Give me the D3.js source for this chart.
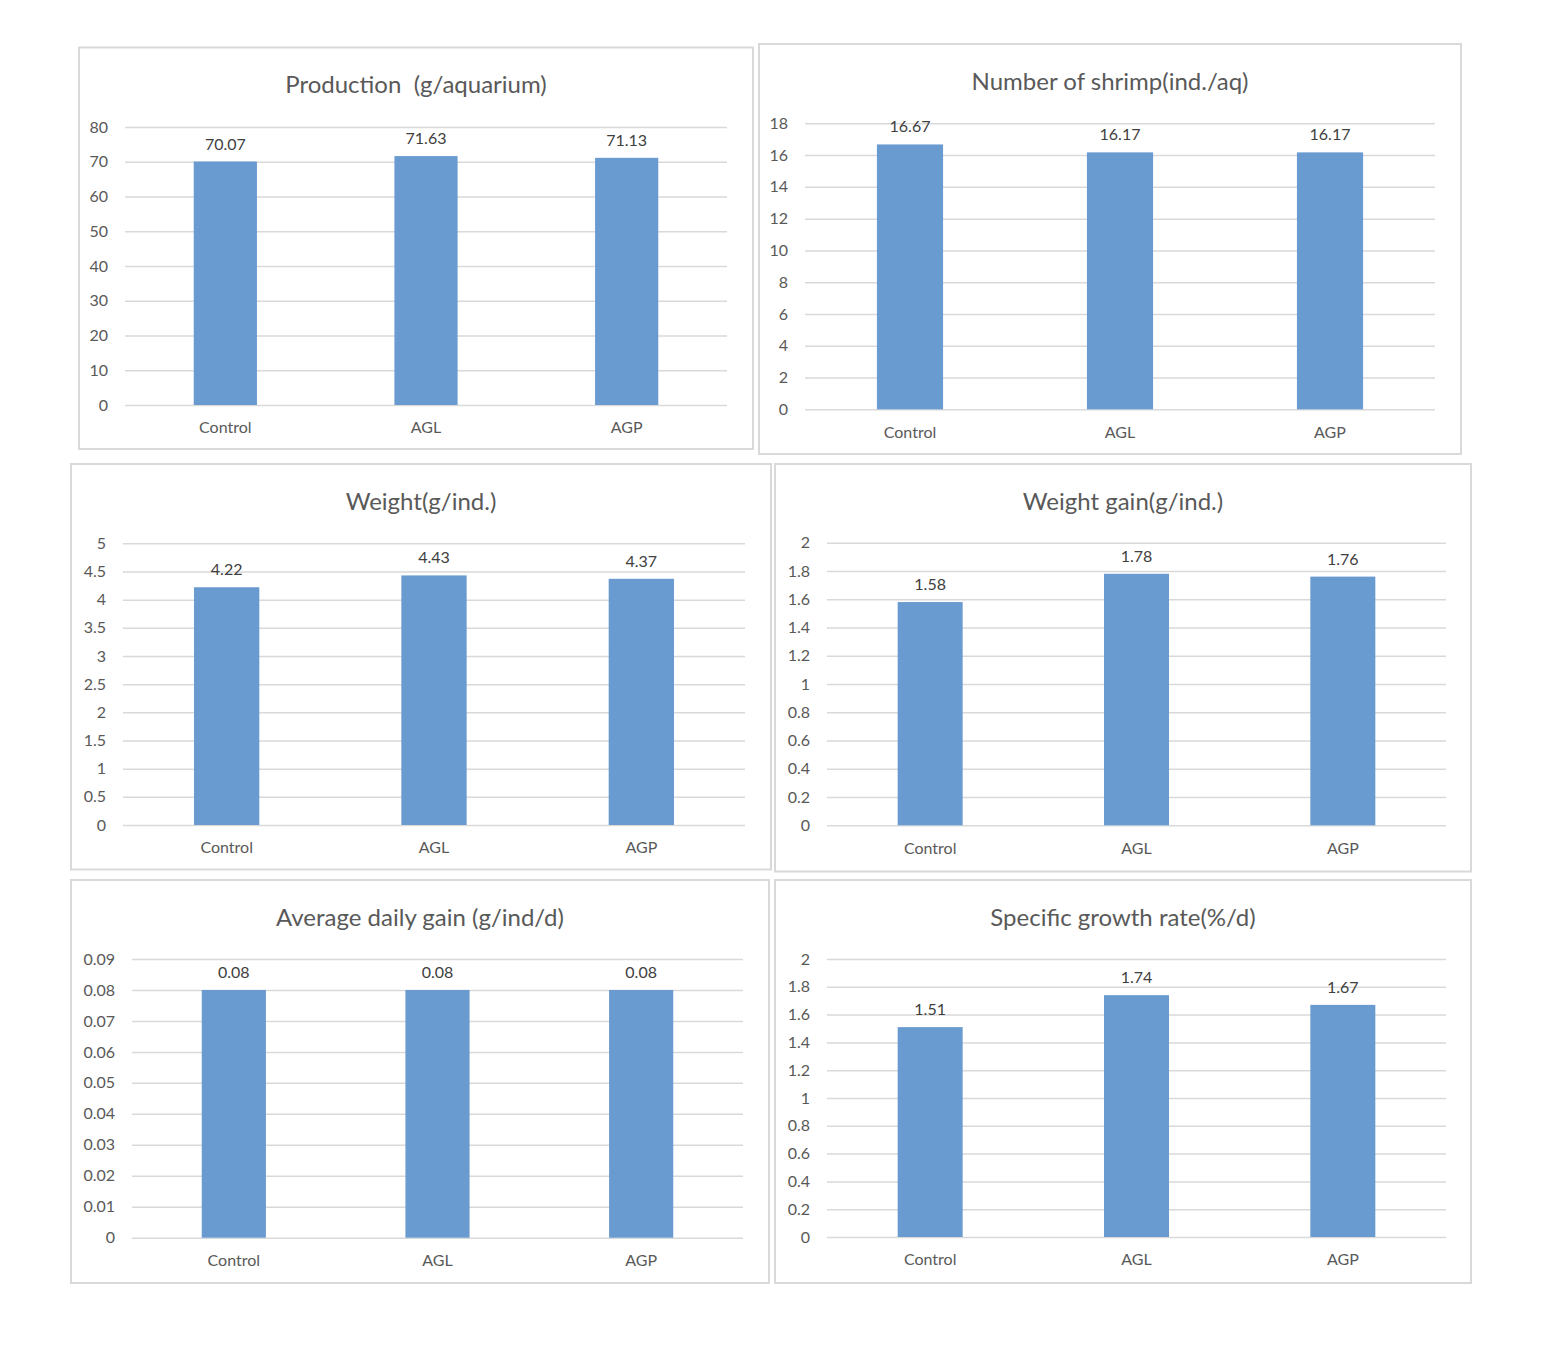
<!DOCTYPE html>
<html>
<head>
<meta charset="utf-8">
<script src="https://cdn.jsdelivr.net/npm/d3@7"></script>
<style>
  body { margin: 0; background: #fff; }
  svg { display: block; font-family: Lato, "Open Sans", sans-serif; }
  .tick line { stroke: #d9d9d9; stroke-width: 1.5; }
  .y-axis text, .x-axis text { fill: #595959; font-size: 16px; font-family: Lato, "Open Sans", sans-serif; }
  .title { fill: #595959; font-size: 24px; white-space: pre; }
  .label { fill: #404040; font-size: 16px; }
</style>
</head>
<body>
<svg id="chart" width="1566" height="1358"></svg>
<script>
// data
const categories = ["Control", "AGL", "AGP"];
const production = [70.07, 71.63, 71.13];
const shrimpNumber = [16.67, 16.17, 16.17];
const weight = [4.22, 4.43, 4.37];
const weightGain = [1.58, 1.78, 1.76];
const dailyGain = [0.08, 0.08, 0.08];
const growthRate = [1.51, 1.74, 1.67];

const titles = [
  "Production  (g/aquarium)",
  "Number of shrimp(ind./aq)",
  "Weight(g/ind.)",
  "Weight gain(g/ind.)",
  "Average daily gain (g/ind/d)",
  "Specific growth rate(%/d)"
];
const yMax = [80, 18, 5, 2, 0.09, 2];
const yStep = [10, 2, 0.5, 0.2, 0.01, 0.2];

// panel boxes and plot areas (page pixels)
const layout = [
  { box: [79, 47.5, 674, 401.5], plot: [125, 727, 127, 405] },
  { box: [759, 44, 702, 410], plot: [805, 1435, 123.3, 409.3] },
  { box: [71, 464, 700, 405.5], plot: [123, 745, 543.3, 825] },
  { box: [775, 464, 696, 407.5], plot: [827, 1446, 542.7, 825.3] },
  { box: [71, 880, 698, 403], plot: [132, 743, 959, 1237.7] },
  { box: [775, 880, 696, 403], plot: [827, 1446, 959, 1237] }
];

const series = [production, shrimpNumber, weight, weightGain, dailyGain, growthRate];
const svg = d3.select("#chart");
const fmt = d => String(+d.toFixed(2));

series.forEach((values, i) => {
  const [bx, by, bw, bh] = layout[i].box;
  const [left, right, top, bottom] = layout[i].plot;

  // panel frame
  svg.append("rect")
    .attr("x", bx).attr("y", by)
    .attr("width", bw).attr("height", bh)
    .attr("fill", "#fff")
    .attr("stroke", "#d9d9d9")
    .attr("stroke-width", 2);

  svg.append("text")
    .attr("class", "title")
    .attr("x", bx + bw / 2)
    .attr("y", by + 36)
    .attr("text-anchor", "middle")
    .attr("dominant-baseline", "central")
    .text(titles[i]);

  const x = d3.scaleBand()
    .domain(categories)
    .range([left, right])
    .paddingInner(0.685)
    .paddingOuter(0.3425);

  const y = d3.scaleLinear()
    .domain([0, yMax[i]])
    .range([bottom, top]);

  const ticks = d3.range(0, Math.round(yMax[i] / yStep[i]) + 1).map(k => +(k * yStep[i]).toFixed(4));

  const yAxis = d3.axisLeft(y)
    .tickValues(ticks)
    .tickFormat(fmt)
    .tickSizeInner(-(right - left))
    .tickSizeOuter(0)
    .tickPadding(17);

  const yg = svg.append("g")
    .attr("class", "y-axis")
    .attr("transform", `translate(${left},0)`)
    .call(yAxis);
  yg.select(".domain").remove();

  const xg = svg.append("g")
    .attr("class", "x-axis")
    .attr("transform", `translate(0,${bottom})`)
    .call(d3.axisBottom(x).tickSize(0).tickPadding(17));
  xg.select(".domain").remove();

  svg.append("g")
    .selectAll("rect")
    .data(values)
    .join("rect")
    .attr("x", (d, j) => x(categories[j]))
    .attr("y", d => y(d))
    .attr("width", x.bandwidth())
    .attr("height", d => y(0) - y(d))
    .attr("fill", "#6a9bd0");

  svg.append("g")
    .selectAll("text")
    .data(values)
    .join("text")
    .attr("class", "label")
    .attr("x", (d, j) => x(categories[j]) + x.bandwidth() / 2)
    .attr("y", d => y(d) - 12)
    .attr("text-anchor", "middle")
    .text(d => d.toFixed(2));
});
</script>
</body>
</html>
